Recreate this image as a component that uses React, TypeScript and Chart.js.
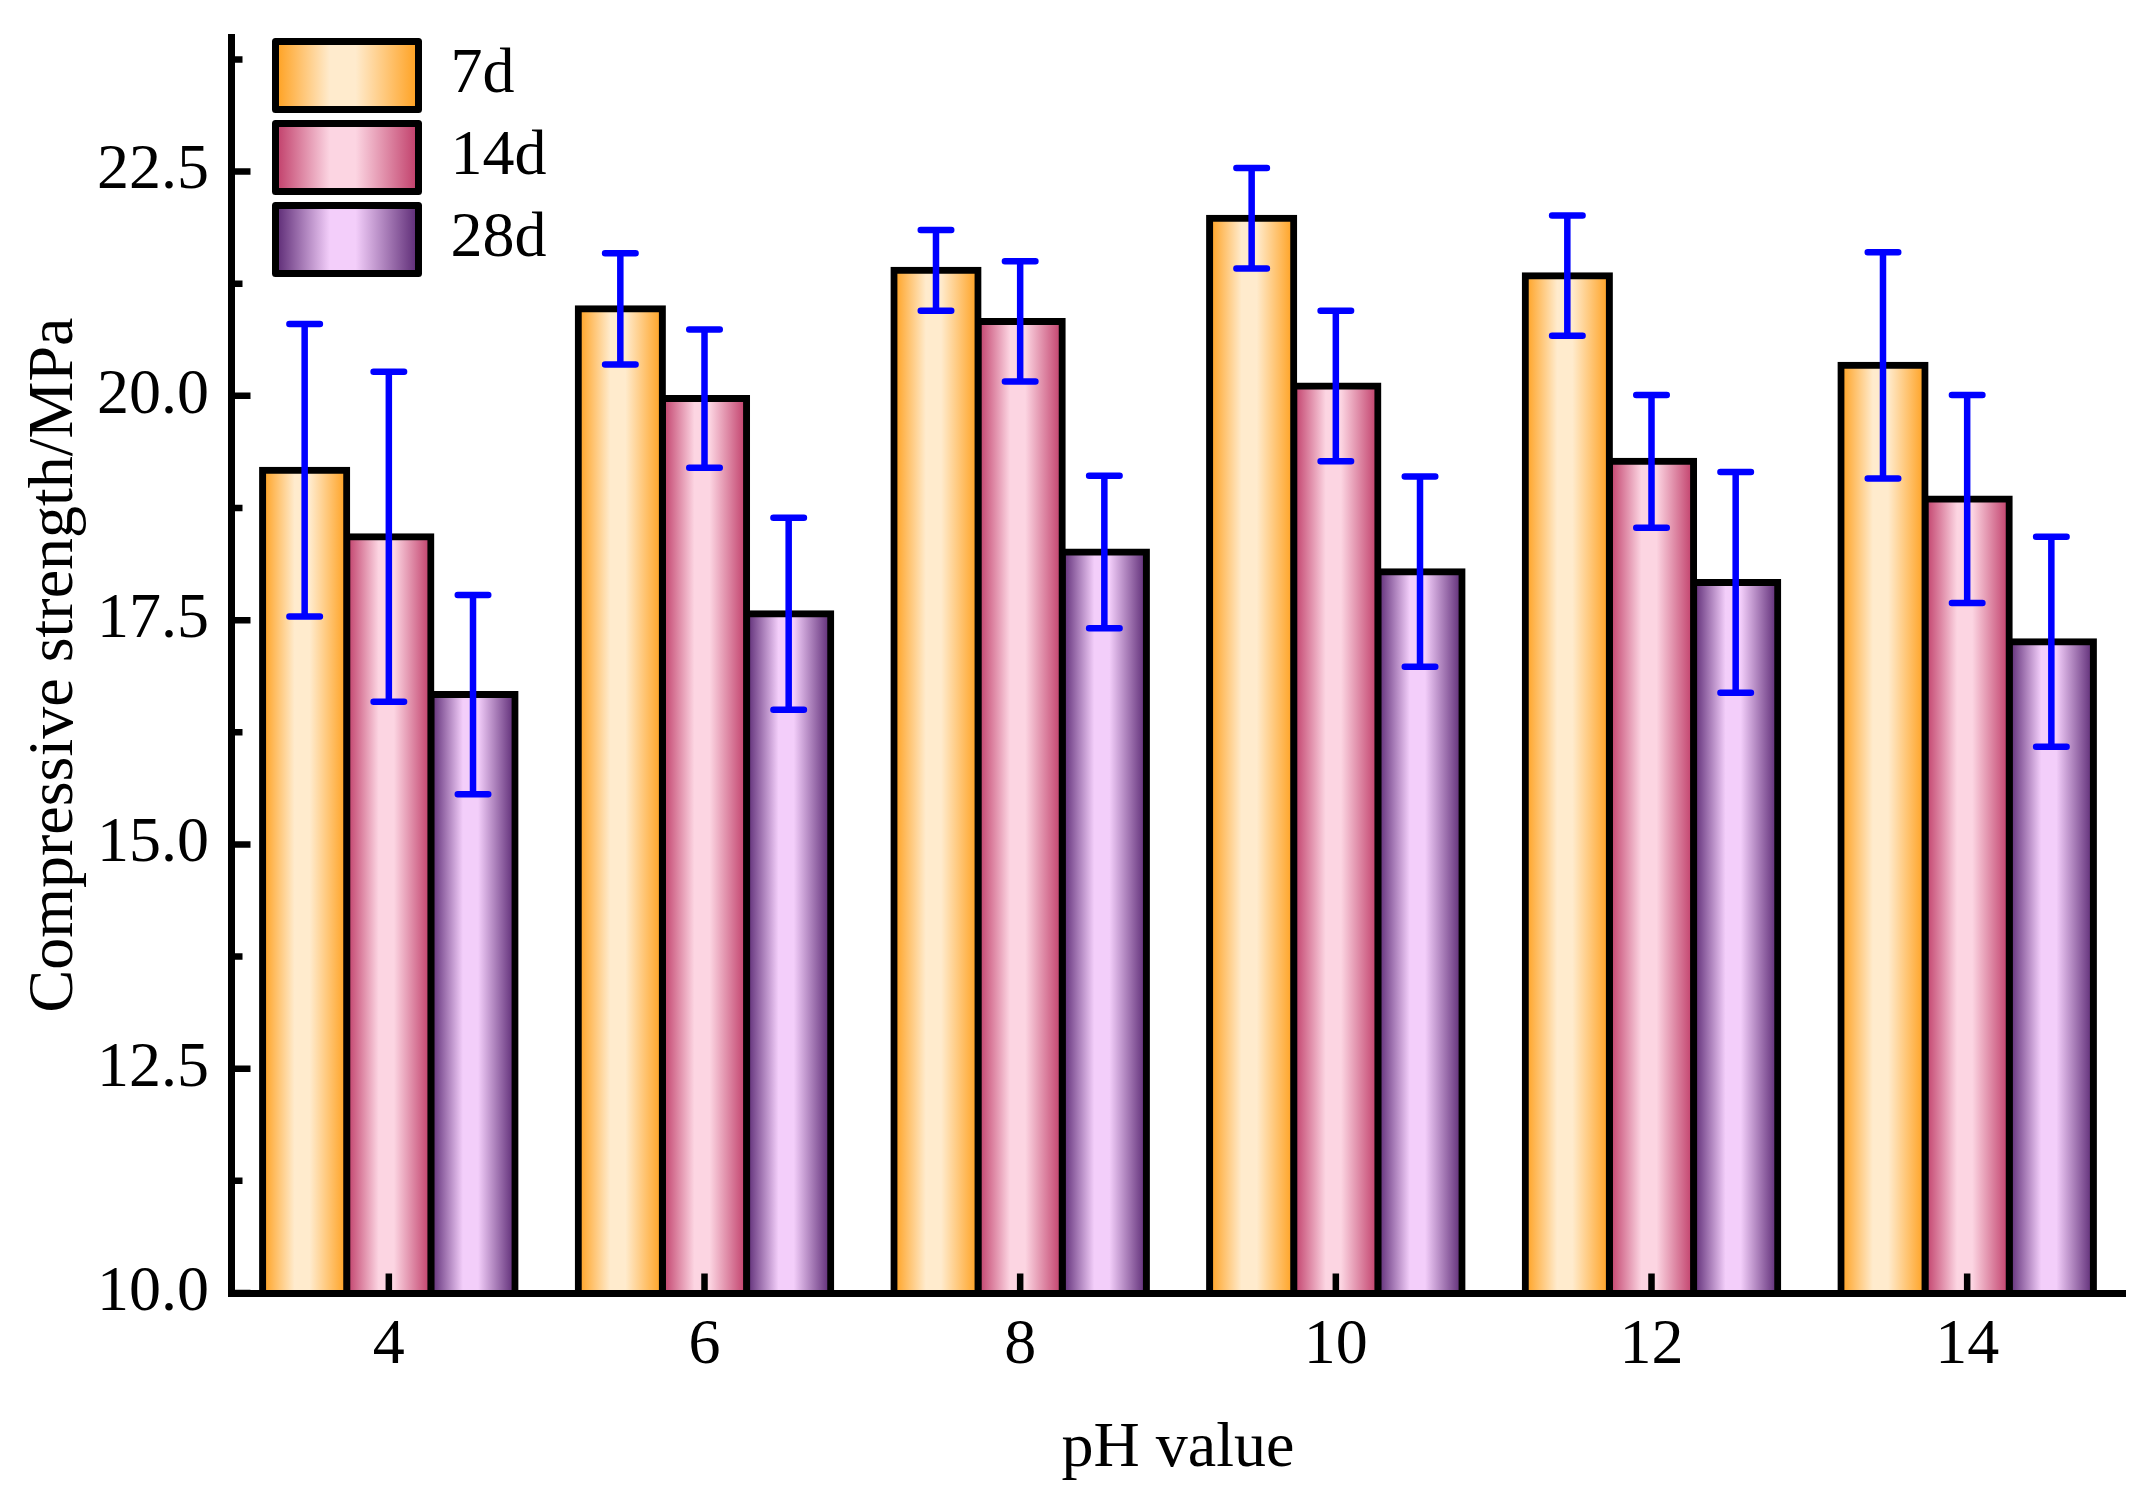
import React, { useEffect, useRef } from 'react';
import { Chart, registerables } from 'chart.js';

Chart.register(...registerables);

// ---------------- data ----------------
const categories = ['4', '6', '8', '10', '12', '14'];
const seriesNames = ['7d', '14d', '28d'];

const values7d = [19.17, 20.97, 21.40, 21.98, 21.34, 20.34];
const values14d = [18.43, 19.97, 20.83, 20.11, 19.27, 18.85];
const values28d = [16.67, 17.57, 18.26, 18.04, 17.92, 17.26];

const errors7d = [1.63, 0.62, 0.45, 0.56, 0.67, 1.26];
const errors14d = [1.84, 0.77, 0.67, 0.84, 0.74, 1.16];
const errors28d = [1.11, 1.07, 0.85, 1.06, 1.23, 1.17];

const yTickValues = [10, 12.5, 15, 17.5, 20, 22.5];
const yMinorTickValues = [11.25, 13.75, 16.25, 18.75, 21.25, 23.75];
const yMin = 10;
const yMax = 24;

const xTitle = 'pH value';
const yTitle = 'Compressive strength/MPa';

// ---------------- styles ----------------
const FONT = "'Liberation Serif', 'Times New Roman', serif";
const FONT_SIZE = 64;
const edgeColors = ['#FFA01E', '#C03C68', '#5A2873'];
const centerColors = ['#FFEBCD', '#FCD5E2', '#F3CEFA'];
const LEG_BOX_W = 143;
const LEG_BOX_H = 68;
const LEG_PAD = 14;

const seriesValues = [values7d, values14d, values28d];
const seriesErrors = [errors7d, errors14d, errors28d];

function makeGradient(ctx: CanvasRenderingContext2D, x0: number, x1: number, i: number): any {
  if (!isFinite(x0) || !isFinite(x1) || x1 === x0) return edgeColors[i];
  const g = ctx.createLinearGradient(x0, 0, x1, 0);
  g.addColorStop(0, edgeColors[i]);
  g.addColorStop(0.38, centerColors[i]);
  g.addColorStop(0.56, centerColors[i]);
  g.addColorStop(1, edgeColors[i]);
  return g;
}

const legendPlacePlugin = {
  id: 'legendPlace',
  afterLayout(chart: any) {
    const lg = chart.legend;
    if (!lg) return;
    const ca = chart.chartArea;
    lg.left = ca.left + 30.5;
    lg.right = lg.left + lg.width;
    lg.top = ca.top - 9.5;
    lg.bottom = lg.top + lg.height;
  },
};

const barGradientPlugin = {
  id: 'barGradient',
  beforeDatasetsDraw(chart: any) {
    chart.data.datasets.forEach((_: any, di: number) => {
      const meta = chart.getDatasetMeta(di);
      meta.data.forEach((el: any) => {
        const x = el.x;
        const w = el.width;
        el.options = { ...el.options, backgroundColor: makeGradient(chart.ctx, x - w / 2, x + w / 2, di) };
      });
    });
  },
};

const errorBarPlugin = {
  id: 'errorBars',
  afterDatasetsDraw(chart: any) {
    const ctx = chart.ctx as CanvasRenderingContext2D;
    const ys = chart.scales.y;
    ctx.save();
    ctx.strokeStyle = '#0000FF';
    ctx.lineWidth = 6.5;
    ctx.lineCap = 'round';
    chart.data.datasets.forEach((ds: any, di: number) => {
      const meta = chart.getDatasetMeta(di);
      meta.data.forEach((el: any, j: number) => {
        const v = ds.data[j];
        const e = seriesErrors[di][j];
        const yHi = ys.getPixelForValue(v + e);
        const yLo = ys.getPixelForValue(v - e);
        const x = el.x;
        const half = 15.25;
        ctx.beginPath();
        ctx.moveTo(x, yHi);
        ctx.lineTo(x, yLo);
        ctx.moveTo(x - half, yHi);
        ctx.lineTo(x + half, yHi);
        ctx.moveTo(x - half, yLo);
        ctx.lineTo(x + half, yLo);
        ctx.stroke();
      });
    });
    ctx.restore();
  },
};

const axisTickPlugin = {
  id: 'axisTicks',
  afterDraw(chart: any) {
    const ctx = chart.ctx as CanvasRenderingContext2D;
    const ca = chart.chartArea;
    const xs = chart.scales.x;
    const ys = chart.scales.y;
    ctx.save();
    ctx.strokeStyle = '#000';
    ctx.lineWidth = 6.5;
    ctx.lineCap = 'butt';
    ctx.beginPath();
    categories.forEach((_, i) => {
      const x = xs.getPixelForValue(i);
      ctx.moveTo(x, ca.bottom);
      ctx.lineTo(x, ca.bottom - 19.5);
    });
    yTickValues.forEach((v) => {
      const y = ys.getPixelForValue(v);
      ctx.moveTo(ca.left, y);
      ctx.lineTo(ca.left + 19.5, y);
    });
    yMinorTickValues.forEach((v) => {
      const y = ys.getPixelForValue(v);
      ctx.moveTo(ca.left, y);
      ctx.lineTo(ca.left + 11.5, y);
    });
    ctx.stroke();
    ctx.restore();
  },
};

export default function App() {
  const canvasRef = useRef<HTMLCanvasElement | null>(null);

  useEffect(() => {
    const canvas = canvasRef.current;
    if (!canvas) return;
    const font = { family: FONT, size: FONT_SIZE };
    const chart = new Chart(canvas, {
      type: 'bar',
      data: {
        labels: categories,
        datasets: seriesValues.map((vals, i) => ({
          label: seriesNames[i],
          data: vals,
          backgroundColor: edgeColors[i],
          borderColor: '#000000',
          borderWidth: 7,
          borderSkipped: 'start',
          inflateAmount: 3.5,
          categoryPercentage: 0.8,
          barPercentage: 1.0,
        })),
      },
      options: {
        responsive: false,
        maintainAspectRatio: false,
        animation: false,
        devicePixelRatio: 1,
        layout: { padding: { left: 0, top: 37, right: 28, bottom: 0 } },
        scales: {
          x: {
            type: 'category',
            offset: true,
            grid: { display: false, drawTicks: false },
            border: { display: true, color: '#000', width: 7, z: 1 },
            ticks: { font, color: '#000', padding: 15, autoSkip: false, maxRotation: 0 },
            title: { display: true, text: xTitle, font, color: '#000', padding: { top: 0, bottom: 18 } },
            afterFit: (s: any) => { s.height = 213; s.paddingLeft = 0; s.paddingRight = 0; },
          },
          y: {
            type: 'linear',
            min: yMin,
            max: yMax,
            grid: { display: false, drawTicks: false },
            border: { display: true, color: '#000', width: 7, z: 1 },
            afterBuildTicks: (s: any) => { s.ticks = yTickValues.map((v) => ({ value: v })); },
            ticks: { font, color: '#000', padding: 22, callback: (v: any) => Number(v).toFixed(1) },
            title: { display: true, text: yTitle, font, color: '#000', padding: { top: 17, bottom: 0 } },
            afterFit: (s: any) => { s.width = 231; s.paddingTop = 0; s.paddingBottom = 0; },
          },
        },
        plugins: {
          tooltip: { enabled: false },
          legend: {
            display: true,
            position: 'chartArea',
            align: 'start',
            labels: {
              boxWidth: LEG_BOX_W,
              boxHeight: LEG_BOX_H,
              padding: LEG_PAD,
              color: '#000',
              font,
              generateLabels: (ch: any) => {
                const lg = ch.legend;
                const x0 = (lg && isFinite(lg.left) ? lg.left : NaN) + LEG_PAD;
                return seriesNames.map((name, i) => ({
                  text: name,
                  datasetIndex: i,
                  hidden: false,
                  fillStyle: makeGradient(ch.ctx, x0, x0 + LEG_BOX_W, i),
                  strokeStyle: '#000',
                  lineWidth: 7,
                  lineJoin: 'round',
                  fontColor: '#000',
                }));
              },
            },
          },
        },
      } as any,
      plugins: [legendPlacePlugin, barGradientPlugin, errorBarPlugin, axisTickPlugin],
    });
    return () => chart.destroy();
  }, []);

  return (
    <div style={{ position: 'absolute', left: 0, top: 0, width: 2153, height: 1506, background: '#fff' }}>
      <canvas ref={canvasRef} width={2153} height={1506} style={{ display: 'block' }} />
    </div>
  );
}
